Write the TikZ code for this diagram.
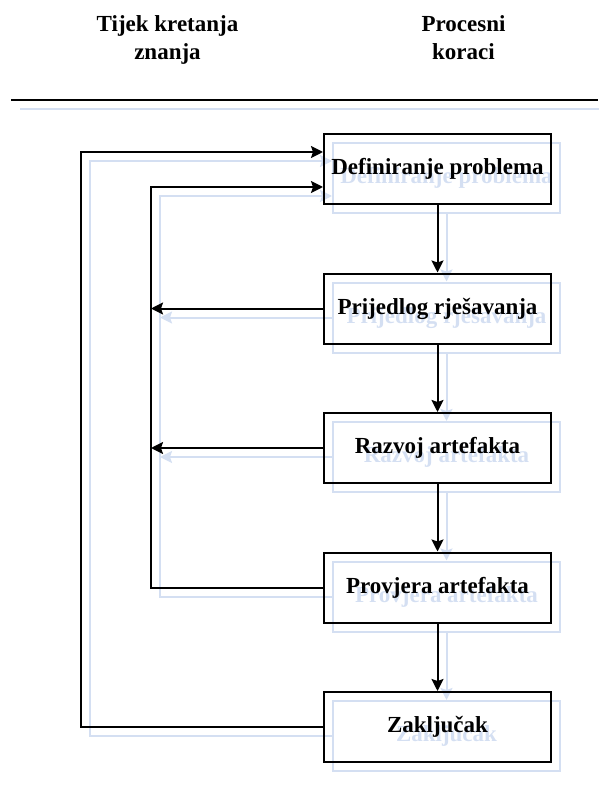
\documentclass[tikz,border=0pt]{standalone}
\usepackage{fontspec}
\setmainfont{Liberation Serif}
\usetikzlibrary{arrows.meta,positioning}
\definecolor{ghost}{RGB}{212,223,242}

\begin{document}
\begin{tikzpicture}
	[x=1pt,y=-1pt,->,>={Stealth[length=12pt,width=12pt,inset=2pt]},
		line width=2pt,node distance=67.5pt,
		head node/.style={align=center,anchor=base,font=\fontsize{23}{28}\selectfont\bfseries},
		step node/.style={rectangle,draw,minimum width=227pt,minimum height=70pt,font=\fontsize{23}{28}\selectfont\bfseries}]

	\useasboundingbox (0,0) rectangle (598,791);

	\node[head node] (tijek) at (167.5,60) {Tijek kretanja\\znanja};
	\node[head node] (proc)  at (463.5,60) {Procesni\\koraci};

	% pale copy first, the diagram itself on top
	\foreach \l/\d/\c in {g/9/ghost, m/0/black} {
	\begin{scope}[shift={(\d,\d)},color=\c,name prefix=\l-]
		\coordinate (rl) at (11,100);
		\coordinate (rr) at (598,100);
		\draw[-] (rl) -- (rr);

		\node[step node] (def) at (437.5,169) {Definiranje problema};
		\node[step node] [below=of def]  (prij) {Prijedlog rješavanja};
		\node[step node] [below=of prij] (razv) {Razvoj artefakta};
		\node[step node] [below=of razv] (prov) {Provjera artefakta};
		\node[step node] [below=of prov] (zak)  {Zaključak};

		\coordinate (inner) at (151,187);
		\coordinate (outer) at (81,152);

		\path
		(def)  edge (prij)
		(prij) edge (razv)
		(razv) edge (prov)
		(prov) edge (zak)
		;

		\draw (prij.west) -- (prij.west -| inner);
		\draw (razv.west) -- (razv.west -| inner);
		\draw (prov.west) -| (inner) -- (inner -| def.west);
		\draw (zak.west) -| (outer) -- (outer -| def.west);
	\end{scope}
	}

\end{tikzpicture}
\end{document}
